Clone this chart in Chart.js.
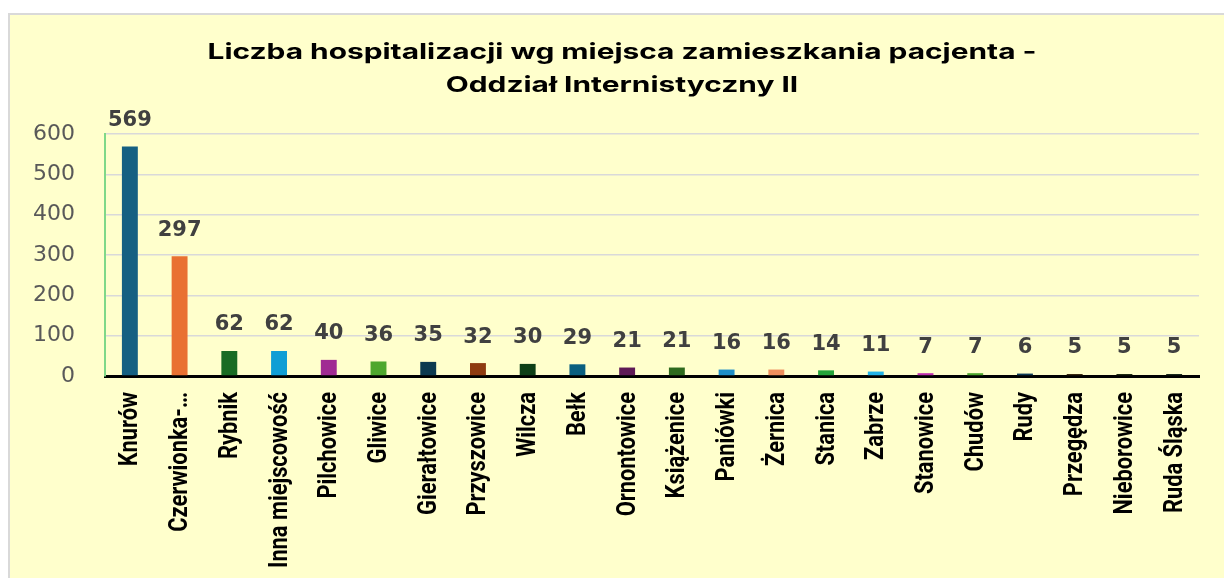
<!DOCTYPE html>
<html>
<head>
<meta charset="utf-8">
<script src="https://cdn.jsdelivr.net/npm/chart.js@4/dist/chart.umd.min.js"></script>
<style>
  html, body { margin: 0; padding: 0; background: #ffffff; width: 1224px; height: 578px; overflow: hidden; }
  #frame { position: absolute; left: 8px; top: 13px; width: 1240px; height: 600px; background: #FFFFCC; border: 2px solid #D9D9D9; box-sizing: border-box; }
  #c { position: absolute; left: 0; top: 0; }
</style>
</head>
<body>
<div id="frame"></div>
<canvas id="c" width="1224" height="578"></canvas>
<script>
const categories = ["Knurów","Czerwionka-…","Rybnik","Inna miejscowość","Pilchowice","Gliwice","Gierałtowice","Przyszowice","Wilcza","Bełk","Ornontowice","Książenice","Paniówki","Żernica","Stanica","Zabrze","Stanowice","Chudów","Rudy","Przegędza","Nieborowice","Ruda Śląska"];
const values = [569,297,62,62,40,36,35,32,30,29,21,21,16,16,14,11,7,7,6,5,5,5];
const barColors = ["#156082","#E97132","#196B24","#0F9ED5","#A02B93","#4EA72E","#0C3A50","#8E3B10","#0E3F17","#0A5F80","#5E1A56","#2E6A1E","#1F8FC8","#EE8F5E","#25A43A","#22B3E8","#C030B0","#4EA72E","#0E3A55","#3A2A10","#1E2A10","#1A2A1A"];
const yTicks = [0,100,200,300,400,500,600];
const titleLines = ["Liczba hospitalizacji wg miejsca zamieszkania pacjenta -","Oddział Internistyczny II"];

const titlePlugin = {
  id: 'titleDraw',
  afterDraw(chart) {
    const ctx = chart.ctx;
    ctx.save();
    ctx.fillStyle = '#000000';
    ctx.font = 'bold 22px Inter, "Open Sans", sans-serif';
    ctx.textAlign = 'center';
    ctx.textBaseline = 'alphabetic';
    const w = ctx.measureText(titleLines[0]).width;
    const sx = 829 / w;
    ctx.translate(622, 0);
    ctx.scale(sx, 1);
    ctx.fillText(titleLines[0], 0, 59);
    ctx.fillText(titleLines[1], 0, 92);
    ctx.restore();
  }
};

const xLabelPlugin = {
  id: 'xLabels',
  afterDraw(chart) {
    const ctx = chart.ctx;
    const xs = chart.scales.x;
    const top = chart.chartArea.bottom + 16;
    ctx.save();
    ctx.fillStyle = '#000000';
    ctx.font = 'bold 26px Roboto, "DejaVu Sans Condensed", sans-serif';
    const ref = ctx.measureText("Inna miejscowość").width;
    const sx = 176 / ref;
    ctx.textAlign = 'right';
    ctx.textBaseline = 'middle';
    categories.forEach((lab, i) => {
      const x = xs.getPixelForValue(i);
      ctx.save();
      ctx.translate(x + 1, top);
      ctx.rotate(-Math.PI / 2);
      ctx.scale(sx, 1);
      ctx.fillText(lab, 0, 0);
      ctx.restore();
    });
    ctx.restore();
  }
};

const labelPlugin = {
  id: 'valueLabels',
  afterDatasetsDraw(chart) {
    const ctx = chart.ctx;
    const meta = chart.getDatasetMeta(0);
    ctx.save();
    ctx.fillStyle = '#404040';
    ctx.font = 'bold 21px "DejaVu Sans", sans-serif';
    ctx.textAlign = 'center';
    ctx.textBaseline = 'middle';
    meta.data.forEach((bar, i) => {
      ctx.fillText(String(values[i]), bar.x, bar.y - 26);
    });
    ctx.restore();
  }
};

new Chart(document.getElementById('c'), {
  type: 'bar',
  data: {
    labels: categories,
    datasets: [{
      data: values,
      backgroundColor: barColors,
      borderWidth: 0,
      barPercentage: 0.32,
      categoryPercentage: 1.0
    }]
  },
  options: {
    responsive: false,
    animation: false,
    layout: { padding: { top: 134, right: 25, left: 0, bottom: 0 } },
    plugins: { legend: { display: false }, tooltip: { enabled: false }, title: { display: false } },
    scales: {
      x: {
        grid: { display: false, drawTicks: false },
        border: { display: true, color: '#000000', width: 3 },
        ticks: { display: false },
        afterFit(scale) { scale.height = 202; }
      },
      y: {
        min: 0, max: 600,
        afterBuildTicks(scale) { scale.ticks = yTicks.map(v => ({ value: v })); },
        grid: { color: '#D9D9D9', lineWidth: 1.5, drawTicks: false },
        border: { display: true, color: '#7FD888', width: 2 },
        ticks: {
          padding: 30, color: '#595959',
          font: { family: '"DejaVu Sans", sans-serif', size: 22 }
        },
        afterFit(scale) { scale.width = 105; }
      }
    }
  },
  plugins: [titlePlugin, labelPlugin, xLabelPlugin]
});
</script>
</body>
</html>
